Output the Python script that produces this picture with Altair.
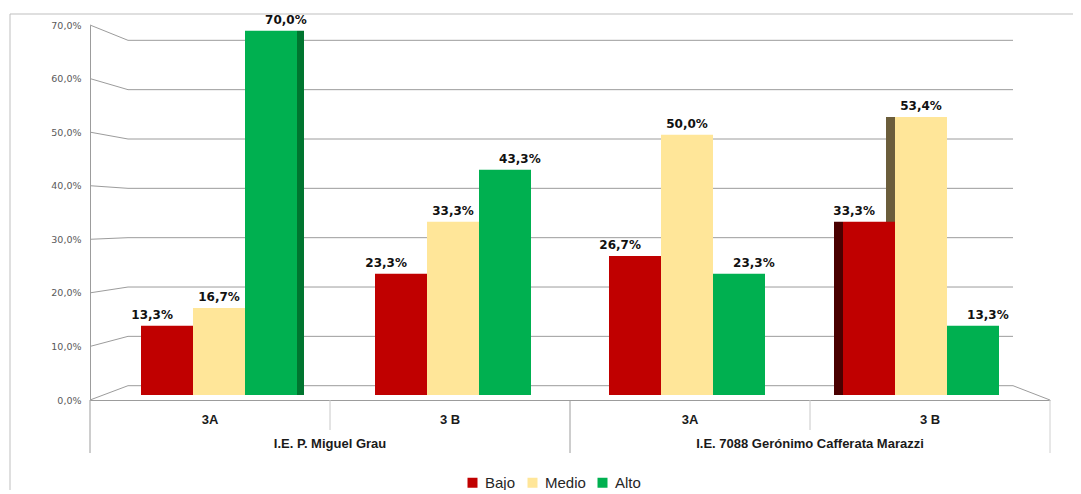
import altair as alt
import pandas as pd

# ---------------- data ----------------
SCHOOLS = ["I.E. P. Miguel Grau", "I.E. 7088  Gerónimo Cafferata Marazzi"]
SUBGROUPS = ["3A", "3 B"]
SERIES = ["Bajo", "Medio", "Alto"]
BAJO = [13.3, 23.3, 26.7, 33.3]
MEDIO = [16.7, 33.3, 50.0, 53.4]
ALTO = [70.0, 43.3, 23.3, 13.3]
Y_TICKS = [0, 10, 20, 30, 40, 50, 60, 70]

COLORS = ["#C00000", "#FFE699", "#00B050"]
DARK = ["#4A0000", "#6B5D3B", "#00752F"]

KEYS = [f"{s}|{g}" for s in SCHOOLS for g in SUBGROUPS]
SERIES_VALUES = [BAJO, MEDIO, ALTO]

rows = []
for i, k in enumerate(KEYS):
    for s, vals in zip(SERIES, SERIES_VALUES):
        rows.append({"key": k, "serie": s, "value": vals[i]})
bars_df = pd.DataFrame(rows)

# visible 3D side faces of the outer clusters (perspective from chart centre)
right_faces, left_faces = [], []
first = [vals[0] for vals in SERIES_VALUES]
for j in range(3):
    nxt = first[j + 1] if j < 2 else 0
    if first[j] > nxt:
        right_faces.append({"key": KEYS[0], "serie": SERIES[j], "value": first[j]})
last = [vals[-1] for vals in SERIES_VALUES]
for j in range(3):
    prv = last[j - 1] if j > 0 else 0
    if last[j] > prv:
        left_faces.append({"key": KEYS[-1], "serie": SERIES[j], "value": last[j]})

grid_df = pd.DataFrame({"v": Y_TICKS})

# ---------------- styling / layout ----------------
W, H = 960, 375
BACK_X0, BACK_X1 = 38, 923          # back wall horizontal extent (px)
BAR_RANGE = [12, 948]               # bars sit slightly behind the front plane
GRID_COL = "#9C9C9C"
CAT_FONT = "Liberation Sans Narrow, Liberation Sans, sans-serif"
VAL_FONT = "DejaVu Sans"

N = len(SERIES)
BAND = (BAR_RANGE[1] - BAR_RANGE[0]) / len(KEYS)
BAR_PAD_OUTER = 0.75
STEP = BAND / (N + 2 * BAR_PAD_OUTER)
BAR_START = STEP * BAR_PAD_OUTER


def face_scale(face_w, side):
    p_in = 1 - face_w / STEP
    start = BAR_START + (STEP if side == "right" else -face_w)
    span = STEP * (N - p_in)
    return alt.Scale(domain=SERIES, paddingInner=p_in, paddingOuter=0,
                     range=[start, start + span])


x_front = alt.Scale(domain=KEYS, paddingInner=0, paddingOuter=0)
x_bars = alt.Scale(domain=KEYS, range=BAR_RANGE, paddingInner=0, paddingOuter=0)
xo_scale = alt.Scale(domain=SERIES, paddingOuter=BAR_PAD_OUTER, paddingInner=0)
x_axis = alt.Axis(
    title=None, ticks=False, domain=True, domainColor=GRID_COL, grid=False,
    labelExpr="split(datum.label, '|')[1]", labelAngle=0,
    labelFont=CAT_FONT, labelFontWeight="bold", labelFontSize=13,
    labelColor="#1a1a1a", labelPadding=13,
)
bar_y_scale = alt.Scale(domain=[-0.96, 71.10], nice=False, zero=False)
grid_y_scale = alt.Scale(domain=[0, 70], nice=False)
y_axis = alt.Axis(
    title=None, values=Y_TICKS, ticks=False, grid=False, domain=True,
    domainColor=GRID_COL, labelPadding=9, labelFont=VAL_FONT, labelFontSize=9.5,
    labelColor="#595959",
    labelExpr="replace(format(datum.value, '.1f'), '.', ',') + '%'",
)

XB = alt.X("key:N", scale=x_bars, axis=None, title=None)
XO = alt.XOffset("serie:N", scale=xo_scale)

# ---------------- perspective grid ----------------
grid_base = alt.Chart(grid_df).transform_calculate(
    back="2.67 + datum.v * 0.921"
)
back_rules = grid_base.mark_rule(color=GRID_COL, strokeWidth=1).encode(
    x=alt.value(BACK_X0), x2=alt.value(BACK_X1),
    y=alt.Y("back:Q", scale=grid_y_scale, axis=y_axis),
)
slants = grid_base.mark_rule(color=GRID_COL, strokeWidth=1).encode(
    x=alt.value(0), x2=alt.value(BACK_X0),
    y=alt.Y("v:Q", scale=grid_y_scale, axis=y_axis),
    y2="back:Q",
)
floor_right = grid_base.transform_filter("datum.v == 0").mark_rule(
    color=GRID_COL, strokeWidth=1
).encode(
    x=alt.value(BACK_X1), x2=alt.value(W),
    y=alt.Y("back:Q", scale=grid_y_scale, axis=y_axis),
    y2="v:Q",
)
grid_layer = alt.layer(back_rules, slants, floor_right)

# ---------------- bars ----------------
color_enc = alt.Color(
    "serie:N",
    scale=alt.Scale(domain=SERIES, range=COLORS),
    legend=alt.Legend(
        title=None, orient="none", legendX=375, legendY=450,
        direction="horizontal", symbolType="square", symbolSize=100,
        symbolStrokeWidth=0, labelFont=CAT_FONT, labelFontSize=15,
        labelColor="#262626", columnPadding=9, labelOffset=5,
    ),
)
dark_enc = alt.Color("serie:N", scale=alt.Scale(domain=SERIES, range=DARK), legend=None)

right_side = alt.Chart(pd.DataFrame(right_faces)).mark_bar().encode(
    x=XB, xOffset=alt.XOffset("serie:N", scale=face_scale(7, "right")),
    y=alt.Y("value:Q", scale=bar_y_scale, axis=None), y2=alt.datum(0),
    color=dark_enc,
)
left_side = alt.Chart(pd.DataFrame(left_faces)).mark_bar().encode(
    x=XB, xOffset=alt.XOffset("serie:N", scale=face_scale(9, "left")),
    y=alt.Y("value:Q", scale=bar_y_scale, axis=None), y2=alt.datum(0),
    color=dark_enc,
)
bars = alt.Chart(bars_df).mark_bar().encode(
    x=XB, xOffset=XO,
    y=alt.Y("value:Q", scale=bar_y_scale, axis=None), y2=alt.datum(0),
    color=color_enc,
)
labels = alt.Chart(bars_df).transform_calculate(
    lbl="replace(format(datum.value, '.1f'), '.', ',') + '%'"
).mark_text(
    dy=-7, baseline="alphabetic", font=VAL_FONT, fontWeight="bold",
    fontSize=12, color="#111111",
).encode(
    x=XB, xOffset=XO,
    y=alt.Y("value:Q", scale=bar_y_scale, axis=None),
    text="lbl:N",
)
bar_layer = alt.layer(right_side, left_side, bars, labels).resolve_scale(
    color="independent", xOffset="independent"
)

# ---------------- category axis, separators & school labels ----------------
school_first = pd.DataFrame({"key": [KEYS[0], KEYS[2]]})
school_last = pd.DataFrame({"key": [KEYS[-1]]})
sub_bounds = pd.DataFrame({"key": [KEYS[1], KEYS[3]]})

sep_long = alt.Chart(school_first).mark_rule(color=GRID_COL).encode(
    x=alt.X("key:N", scale=x_front, axis=x_axis, bandPosition=0),
    y=alt.value(H), y2=alt.value(H + 53),
)
sep_end = alt.Chart(school_last).mark_rule(color="#D0D0D0").encode(
    x=alt.X("key:N", scale=x_front, axis=x_axis, bandPosition=1),
    y=alt.value(H), y2=alt.value(H + 53),
)
sep_short = alt.Chart(sub_bounds).mark_rule(color="#C8C8C8").encode(
    x=alt.X("key:N", scale=x_front, axis=x_axis, bandPosition=0),
    y=alt.value(H), y2=alt.value(H + 30),
)
school_df = pd.DataFrame({"key": [KEYS[1], KEYS[3]], "school": SCHOOLS})
school_text = alt.Chart(school_df).mark_text(
    font=CAT_FONT, fontWeight="bold", fontSize=13, color="#1a1a1a",
    baseline="middle",
).encode(
    x=alt.X("key:N", scale=x_front, axis=x_axis, bandPosition=0),
    y=alt.value(H + 44),
    text="school:N",
)
axis_layer = alt.layer(sep_long, sep_end, sep_short, school_text)

# outer frame (left and top edges)
frame_df = pd.DataFrame({"f": [0]})
frame_left = alt.Chart(frame_df).mark_rule(color="#BFBFBF").encode(
    x=alt.value(-80), y=alt.value(-11), y2=alt.value(H + 120)
)
frame_top = alt.Chart(frame_df).mark_rule(color="#BFBFBF").encode(
    x=alt.value(-80), x2=alt.value(W + 40), y=alt.value(-11)
)

chart = alt.layer(
    frame_left, frame_top, grid_layer, bar_layer, axis_layer,
).resolve_scale(y="independent", x="independent", color="independent").properties(
    width=W, height=H,
    autosize=alt.AutoSizeParams(type="none"),
    padding={"left": 82, "top": 17, "right": 23, "bottom": 90},
    background="white",
).configure_view(strokeWidth=0)

chart.save("out.html", embed_options={"renderer": "svg", "actions": False})
